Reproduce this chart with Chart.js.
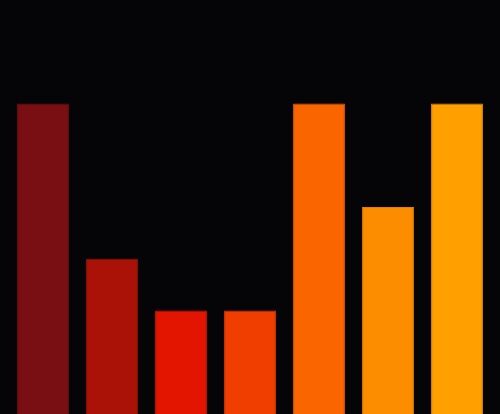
<!DOCTYPE html>
<html>
<head>
<meta charset="utf-8">
<script src="https://cdn.jsdelivr.net/npm/chart.js@4/dist/chart.umd.min.js"></script>
<style>
  html, body { margin: 0; padding: 0; background: #050507; }
  #wrap { width: 500px; height: 414px; }
</style>
</head>
<body>
<div id="wrap"><canvas id="barChart"></canvas></div>
<script>
const categories = ['A', 'B', 'C', 'D', 'E', 'F', 'G'];
const values = [6, 3, 2, 2, 6, 4, 6];
const barColors = ['#7a0f13', '#aa1208', '#e41500', '#f03e00', '#fa6500', '#fd8d00', '#ffa000'];
const borderColors = ['#6e0d10', '#9a1007', '#d01300', '#dc3800', '#e45c00', '#e88000', '#e89200'];
const yMax = 8;

document.addEventListener('DOMContentLoaded', function () {
    const ctx = document.getElementById('barChart').getContext('2d');
    new Chart(ctx, {
        type: 'bar',
        data: {
            labels: categories,
            datasets: [{
                data: values,
                backgroundColor: barColors,
                borderColor: borderColors,
                borderWidth: 1,
                borderSkipped: 'bottom',
                barPercentage: 0.752,
                categoryPercentage: 1
            }]
        },
        options: {
            responsive: true,
            maintainAspectRatio: false,
            animation: false,
            layout: { padding: { left: 8.5, right: 8.5, top: 0, bottom: 0 } },
            plugins: { legend: { display: false }, tooltip: { enabled: false } },
            scales: {
                x: { display: false },
                y: { display: false, min: 0, max: yMax }
            }
        }
    });
});
</script>
</body>
</html>
